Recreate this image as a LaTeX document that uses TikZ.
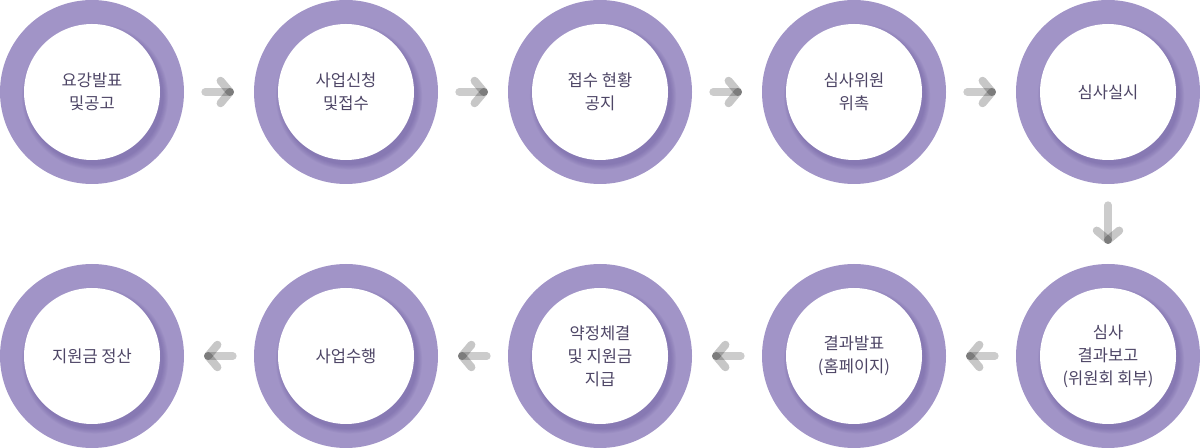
\documentclass[tikz,border=0pt]{standalone}
\usepackage{fontspec}
\setmainfont{Noto Sans CJK KR}
\usetikzlibrary{calc, positioning}
\definecolor{ringpurple}{RGB}{161,148,199}
\definecolor{ringshade}{RGB}{96,78,150}
\definecolor{steptext}{RGB}{78,70,102}

\begin{document}
\begin{tikzpicture}[
  x=0.75pt, y=-0.75pt,
  ring/.style={circle, fill=ringpurple, minimum size=138pt, inner sep=0pt, outer sep=0pt},
  core/.style={circle, fill=white, minimum size=102pt, inner sep=0pt, align=center,
    font=\fontsize{12.4pt}{17.2pt}\selectfont, text=steptext},
  shaft/.style={line width=6pt, line cap=round, black, opacity=0.2},
  arm/.style={line width=6pt, line cap=round, black, opacity=0.22}
]

\useasboundingbox (0,0) rectangle (1200,448);

%% ===== 단계 원 (윗줄 왼→오, 아랫줄 오→왼) =====
\foreach \n/\x/\y/\t in {
    1/92/92/{요강발표\\및공고},
    2/346/92/{사업신청\\및접수},
    3/600/92/{접수 현황\\공지},
    4/854/92/{심사위원\\위촉},
    5/1108/92/{심사실시},
    6/1108/356/{심사\\결과보고\\(위원회 회부)},
    7/854/356/{결과발표\\(홈페이지)},
    8/600/356/{약정체결\\및 지원금\\지급},
    9/346/356/{사업수행},
    10/92/356/{지원금 정산}} {
  \node[ring] (s\n) at (\x,\y) {};
  %% 안쪽 원 그림자 (오른쪽 아래)
  \foreach \k in {1,...,6}
    \fill[ringshade, opacity=0.07] ($(s\n)+(3,4.5)$) circle[radius=50.6pt+\k*0.7pt];
  \node[core] (c\n) at (s\n) {\t};
}

%% ===== 화살표 =====
\foreach \a/\b in {s1/s2, s2/s3, s3/s4, s4/s5, s5/s6, s6/s7, s7/s8, s8/s9, s9/s10} {
  \coordinate (p) at ($(\a)!85pt!(\b)$);
  \coordinate (q) at ($(\b)!87pt!(\a)$);
  \draw[shaft] (p) -- (q);
  \draw[arm] ($(q)!11pt!50:(p)$) -- (q);
  \draw[arm] ($(q)!11pt!-50:(p)$) -- (q);
}

\end{tikzpicture}
\end{document}
